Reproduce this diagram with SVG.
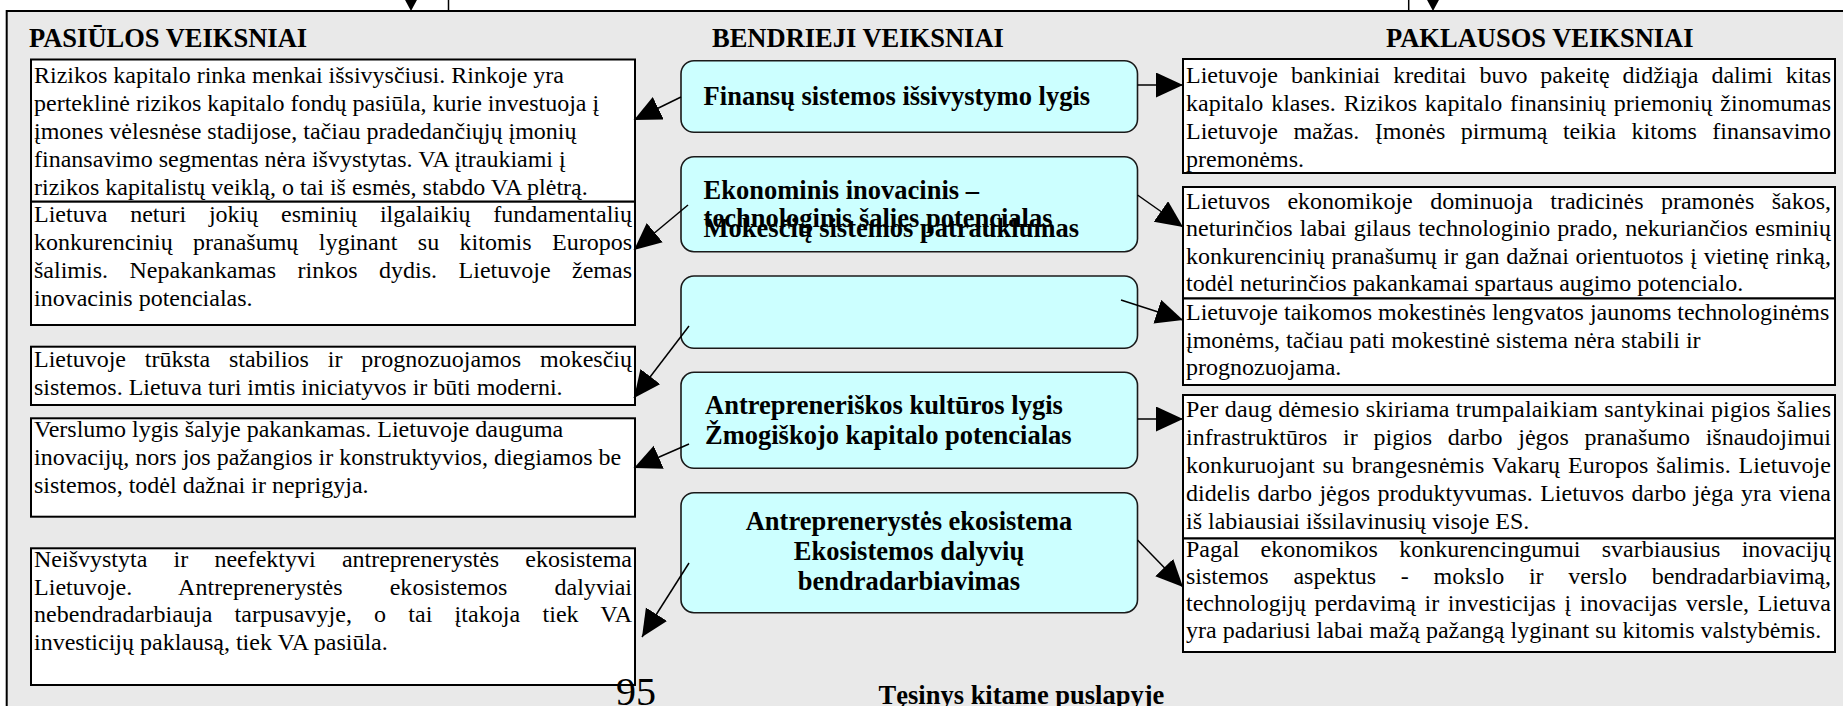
<svg xmlns="http://www.w3.org/2000/svg" width="1843" height="706" viewBox="0 0 1843 706">
<defs>
<marker id="ah" markerUnits="userSpaceOnUse" markerWidth="28" markerHeight="26" refX="27" refY="12.5" orient="auto" viewBox="0 0 28 26"><path d="M0,0 L27,12.5 L0,25 Z" fill="#000"/></marker>
</defs>
<style>
.panel{fill:#e9e9e9;stroke:#000;stroke-width:2}
.tb{fill:#fff;stroke:#000;stroke-width:2}
.cb{fill:#ccffff;stroke:#1a1a1a;stroke-width:1.6}
.t{font-family:"Liberation Serif","Times New Roman",serif;font-size:24px;fill:#000}
.h{font-family:"Liberation Serif","Times New Roman",serif;font-size:26.5px;font-weight:bold;fill:#000}
.hm{text-anchor:middle}
.con{stroke:#000;stroke-width:1.5;fill:none;marker-end:url(#ah)}
.ln{stroke:#000;stroke-width:1.5}
</style>
<rect id="panel" class="panel" x="6.7" y="11" width="1850" height="720"/>
<g id="headings">
<text class="h" x="29" y="47">PASIŪLOS VEIKSNIAI</text>
<text class="h" x="712" y="47">BENDRIEJI VEIKSNIAI</text>
<text class="h" x="1386" y="47">PAKLAUSOS VEIKSNIAI</text>
</g>
<g id="L1">
<rect class="tb" x="31" y="59.5" width="604" height="142.2"/>
<text class="t" x="34" y="82.5">Rizikos kapitalo rinka menkai išsivysčiusi. Rinkoje yra</text>
<text class="t" x="34" y="110.5">perteklinė rizikos kapitalo fondų pasiūla, kurie investuoja į</text>
<text class="t" x="34" y="138.5">įmones vėlesnėse stadijose, tačiau pradedančiųjų įmonių</text>
<text class="t" x="34" y="166.5">finansavimo segmentas nėra išvystytas. VA įtraukiami į</text>
<text class="t" x="34" y="194.5">rizikos kapitalistų veiklą, o tai iš esmės, stabdo VA plėtrą.</text>
</g>
<g id="L2">
<rect class="tb" x="31" y="201.7" width="604" height="123.3"/>
<text class="t" x="34" y="222" textLength="598" lengthAdjust="spacing" word-spacing="16.8">Lietuva neturi jokių esminių ilgalaikių fundamentalių</text>
<text class="t" x="34" y="250" textLength="598" lengthAdjust="spacing" word-spacing="14.4">konkurencinių pranašumų lyginant su kitomis Europos</text>
<text class="t" x="34" y="278" textLength="598" lengthAdjust="spacing" word-spacing="15.5">šalimis. Nepakankamas rinkos dydis. Lietuvoje žemas</text>
<text class="t" x="34" y="306">inovacinis potencialas.</text>
</g>
<g id="L3">
<rect class="tb" x="31" y="346.7" width="604" height="58.3"/>
<text class="t" x="34" y="367" textLength="598" lengthAdjust="spacing" word-spacing="12.8">Lietuvoje trūksta stabilios ir prognozuojamos mokesčių</text>
<text class="t" x="34" y="394.5">sistemos. Lietuva turi imtis iniciatyvos ir būti moderni.</text>
</g>
<g id="L4">
<rect class="tb" x="31" y="418.3" width="604" height="98.4"/>
<text class="t" x="34" y="437">Verslumo lygis šalyje pakankamas. Lietuvoje dauguma</text>
<text class="t" x="34" y="465">inovacijų, nors jos pažangios ir konstruktyvios, diegiamos be</text>
<text class="t" x="34" y="493">sistemos, todėl dažnai ir neprigyja.</text>
</g>
<g id="L5">
<rect class="tb" x="31" y="548.3" width="604" height="136.7"/>
<text class="t" x="34" y="567" textLength="598" lengthAdjust="spacing" word-spacing="20.2">Neišvystyta ir neefektyvi antreprenerystės ekosistema</text>
<text class="t" x="34" y="595" textLength="598" lengthAdjust="spacing" word-spacing="41">Lietuvoje. Antreprenerystės ekosistemos dalyviai</text>
<text class="t" x="34" y="622" textLength="598" lengthAdjust="spacing" word-spacing="16">nebendradarbiauja tarpusavyje, o tai įtakoja tiek VA</text>
<text class="t" x="34" y="650">investicijų paklausą, tiek VA pasiūla.</text>
</g>
<g id="C1">
<rect class="cb" x="681" y="60.7" width="456.5" height="71.6" rx="13"/>
<text class="h" x="703.6" y="105">Finansų sistemos išsivystymo lygis</text>
</g>
<g id="C2">
<rect class="cb" x="681" y="156.7" width="456.5" height="95" rx="13"/>
<text class="h" x="703.6" y="199">Ekonominis inovacinis –</text>
<text class="h" x="703.6" y="227">technologinis šalies potencialas</text>
<text class="h" x="703.6" y="236.5">Mokesčių sistemos patrauklumas</text>
</g>
<g id="C3">
<rect class="cb" x="681" y="276" width="456.5" height="72.3" rx="13"/>
</g>
<g id="C4">
<rect class="cb" x="681" y="372.3" width="456.5" height="96" rx="13"/>
<text class="h" x="705" y="414">Antrepreneriškos kultūros lygis</text>
<text class="h" x="705" y="444">Žmogiškojo kapitalo potencialas</text>
</g>
<g id="C5">
<rect class="cb" x="681" y="492.7" width="456.5" height="120" rx="13"/>
<text class="h hm" x="909" y="530">Antreprenerystės ekosistema</text>
<text class="h hm" x="909" y="560">Ekosistemos dalyvių</text>
<text class="h hm" x="909" y="590">bendradarbiavimas</text>
</g>
<g id="R1">
<rect class="tb" x="1183" y="59" width="652" height="114"/>
<text class="t" x="1186" y="83" textLength="645" lengthAdjust="spacing" word-spacing="6.9">Lietuvoje bankiniai kreditai buvo pakeitę didžiąja dalimi kitas</text>
<text class="t" x="1186" y="111" textLength="645" lengthAdjust="spacing" word-spacing="1.8">kapitalo klases. Rizikos kapitalo finansinių priemonių žinomumas</text>
<text class="t" x="1186" y="139" textLength="645" lengthAdjust="spacing" word-spacing="9.4">Lietuvoje mažas. Įmonės pirmumą teikia kitoms finansavimo</text>
<text class="t" x="1186" y="167">premonėms.</text>
</g>
<g id="R2">
<rect class="tb" x="1183" y="187" width="652" height="111.5"/>
<text class="t" x="1186" y="208.5" textLength="645" lengthAdjust="spacing" word-spacing="11.4">Lietuvos ekonomikoje dominuoja tradicinės pramonės šakos,</text>
<text class="t" x="1186" y="236" textLength="645" lengthAdjust="spacing" word-spacing="1.2">neturinčios labai gilaus technologinio prado, nekuriančios esminių</text>
<text class="t" x="1186" y="263.5" textLength="645" lengthAdjust="spacing" word-spacing="0.7">konkurencinių pranašumų ir gan dažnai orientuotos į vietinę rinką,</text>
<text class="t" x="1186" y="291">todėl neturinčios pakankamai spartaus augimo potencialo.</text>
</g>
<g id="R3">
<rect class="tb" x="1183" y="298.5" width="652" height="86.5"/>
<text class="t" x="1186" y="320">Lietuvoje taikomos mokestinės lengvatos jaunoms technologinėms</text>
<text class="t" x="1186" y="347.5">įmonėms, tačiau pati mokestinė sistema nėra stabili ir</text>
<text class="t" x="1186" y="375">prognozuojama.</text>
</g>
<g id="R4">
<rect class="tb" x="1183" y="395" width="652" height="143.5"/>
<text class="t" x="1186" y="417" textLength="645" lengthAdjust="spacing">Per daug dėmesio skiriama trumpalaikiam santykinai pigios šalies</text>
<text class="t" x="1186" y="445" textLength="645" lengthAdjust="spacing" word-spacing="9.7">infrastruktūros ir pigios darbo jėgos pranašumo išnaudojimui</text>
<text class="t" x="1186" y="473" textLength="645" lengthAdjust="spacing" word-spacing="1.8">konkuruojant su brangesnėmis Vakarų Europos šalimis. Lietuvoje</text>
<text class="t" x="1186" y="501" textLength="645" lengthAdjust="spacing" word-spacing="1.4">didelis darbo jėgos produktyvumas. Lietuvos darbo jėga yra viena</text>
<text class="t" x="1186" y="529">iš labiausiai išsilavinusių visoje ES.</text>
</g>
<g id="R5">
<rect class="tb" x="1183" y="538.5" width="652" height="113.5"/>
<text class="t" x="1186" y="557" textLength="645" lengthAdjust="spacing" word-spacing="15.2">Pagal ekonomikos konkurencingumui svarbiausius inovacijų</text>
<text class="t" x="1186" y="584" textLength="645" lengthAdjust="spacing" word-spacing="18.7">sistemos aspektus - mokslo ir verslo bendradarbiavimą,</text>
<text class="t" x="1186" y="611" textLength="645" lengthAdjust="spacing" word-spacing="2.6">technologijų perdavimą ir investicijas į inovacijas versle, Lietuva</text>
<text class="t" x="1186" y="638">yra padariusi labai mažą pažangą lyginant su kitomis valstybėmis.</text>
</g>
<g id="footer">
<text class="t" x="616" y="705" style="font-size:40px">95</text>
<text class="h" x="878.6" y="703.5">Tęsinys kitame puslapyje</text>
</g>
<g id="connectors">
<polygon points="404,-2 418,-2 411,11" fill="#000"/>
<line class="ln" x1="448.5" y1="0" x2="448.5" y2="11"/>
<polygon points="1426,-2 1440,-2 1433,11" fill="#000"/>
<line class="ln" x1="1408.7" y1="0" x2="1408.7" y2="11"/>
<path class="con" d="M681,97 L634,120"/>
<path class="con" d="M688,205 L634,250"/>
<path class="con" d="M689,326 L634,398"/>
<path class="con" d="M689,444 L634,468"/>
<path class="con" d="M689,563 L642,637"/>
<path class="con" d="M1137.5,85 L1183,85"/>
<path class="con" d="M1137.5,195 L1183,227"/>
<path class="con" d="M1121,300 L1183,320"/>
<path class="con" d="M1137.5,419 L1183,419"/>
<path class="con" d="M1137.5,540 L1183,587"/>
</g>
</svg>
